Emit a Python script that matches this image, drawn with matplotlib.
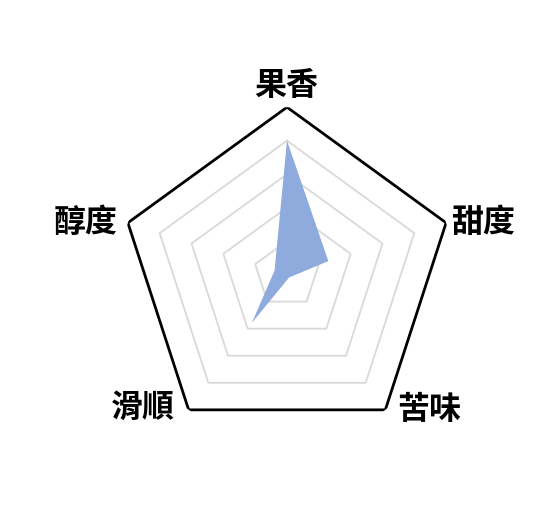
import numpy as np
import matplotlib
matplotlib.use("Agg")
import matplotlib.pyplot as plt

plt.rcParams['font.family'] = ['Noto Sans CJK TC', 'DejaVu Sans']

# axes, clockwise from top
labels = ['果香', '甜度', '苦味', '滑順', '醇度']
values = [4.0, 1.3, 0.11, 1.78, 0.39]
levels = [1, 2, 3, 4, 5]

n = len(labels)
angles = np.linspace(0, 2 * np.pi, n, endpoint=False)
ang_closed = np.append(angles, angles[0])

fig = plt.figure(figsize=(5.57, 5.09), dpi=100)
ax = fig.add_axes([0.2149, 0.132, 0.6007, 0.6574], projection='polar')
ax.set_theta_offset(np.pi / 2)
ax.set_theta_direction(-1)
ax.set_ylim(0, 5)
ax.grid(False)
ax.spines['polar'].set_visible(False)
ax.set_xticks([])
ax.set_yticks([])
ax.patch.set_alpha(0)

# pentagon grid
for lv in levels:
    if lv == levels[-1]:
        ax.plot(ang_closed, [lv] * (n + 1), color='black', lw=2, zorder=3)
    else:
        ax.plot(ang_closed, [lv] * (n + 1), color='#d9d9d9', lw=1.3, zorder=1)

vals_closed = values + values[:1]
ax.fill(ang_closed, vals_closed, color='#8faadc', lw=0, zorder=2)

# label offsets (pixels) from outer vertices
offsets = [(-1, 21, 'center'), (5, 0, 'left'), (12, 0, 'left'),
           (-14, 2, 'right'), (-10, 0, 'right')]
for a, lab, (dx, dy, ha) in zip(angles, labels, offsets):
    ax.annotate(lab, xy=(a, 5), xytext=(dx, dy), textcoords='offset pixels',
                ha=ha, va='center', fontsize=23, fontweight='bold',
                color='black', annotation_clip=False)

fig.savefig('out.png', dpi=100)
